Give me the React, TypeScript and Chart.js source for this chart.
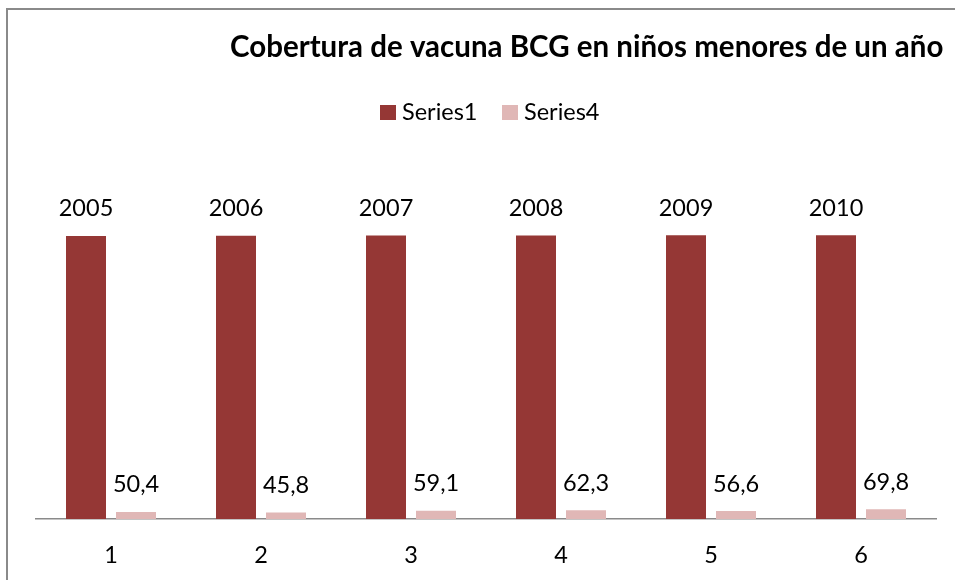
import React, { useEffect, useRef } from "react";
import { Chart, registerables } from "chart.js";

Chart.register(...registerables);

const categories = ["1", "2", "3", "4", "5", "6"];
const series1 = [2005, 2006, 2007, 2008, 2009, 2010];
const series4 = [50.4, 45.8, 59.1, 62.3, 56.6, 69.8];
const seriesNames = ["Series1", "Series4"];
const seriesColors = ["#953735", "#E0B7B6"];
const titleText = "Cobertura de vacuna BCG en niños menores de un año";
const yMax = 2500;

const FONT = "Lato, 'Noto Sans', sans-serif";

const fmt = (v: number) =>
  Number.isInteger(v) ? String(v) : v.toFixed(1).replace(".", ",");

const decorPlugin = {
  id: "decor",
  beforeDraw(chart: any) {
    const ctx = chart.ctx;
    ctx.save();
    ctx.fillStyle = "#ffffff";
    ctx.fillRect(0, 0, chart.width, chart.height);
    ctx.strokeStyle = "#8a8a8a";
    ctx.lineWidth = 2;
    ctx.strokeRect(7, 9, 1200, 1200);
    ctx.restore();
  },
  afterDatasetsDraw(chart: any) {
    const ctx = chart.ctx;
    ctx.save();
    ctx.fillStyle = "#000000";
    ctx.font = `23.5px ${FONT}`;
    ctx.textAlign = "center";
    ctx.textBaseline = "middle";
    chart.data.datasets.forEach((ds: any, di: number) => {
      const meta = chart.getDatasetMeta(di);
      meta.data.forEach((bar: any, i: number) => {
        ctx.fillText(fmt(ds.data[i]), bar.x, bar.y - 27);
      });
    });
    ctx.restore();
  },
  afterDraw(chart: any) {
    const ctx = chart.ctx;
    ctx.save();
    ctx.fillStyle = "#000000";
    ctx.font = `bold 29.5px ${FONT}`;
    ctx.textAlign = "left";
    ctx.textBaseline = "alphabetic";
    ctx.fillText(titleText, 230, 57);

    // legend
    ctx.font = `23.5px ${FONT}`;
    const items = [
      { x: 380, label: seriesNames[0], color: seriesColors[0] },
      { x: 502, label: seriesNames[1], color: seriesColors[1] },
    ];
    items.forEach((it) => {
      ctx.fillStyle = it.color;
      ctx.fillRect(it.x, 105, 16, 15);
      ctx.fillStyle = "#000000";
      ctx.fillText(it.label, it.x + 22, 120);
    });
    ctx.restore();
  },
};

export default function App() {
  const ref = useRef<HTMLCanvasElement | null>(null);

  useEffect(() => {
    if (!ref.current) return;
    const chart = new Chart(ref.current, {
      type: "bar",
      data: {
        labels: categories,
        datasets: [
          {
            label: seriesNames[0],
            data: series1,
            backgroundColor: seriesColors[0],
            categoryPercentage: 2 / 3,
            barPercentage: 0.8,
          },
          {
            label: seriesNames[1],
            data: series4,
            backgroundColor: seriesColors[1],
            categoryPercentage: 2 / 3,
            barPercentage: 0.8,
          },
        ],
      },
      options: {
        responsive: false,
        animation: false,
        layout: { padding: { left: 36, right: 19, top: 166, bottom: 0 } },
        plugins: {
          legend: { display: false },
          title: { display: false },
          tooltip: { enabled: false },
        },
        scales: {
          x: {
            grid: { display: false, drawTicks: false },
            border: { display: true, color: "#8a8a8a", width: 1.5 },
            ticks: {
              color: "#000000",
              font: { family: FONT, size: 23.5 },
              padding: 22,
            },
            afterFit: (scale: any) => {
              scale.height = 61;
            },
          },
          y: {
            display: false,
            min: 0,
            max: yMax,
          },
        },
      },
      plugins: [decorPlugin],
    });
    return () => chart.destroy();
  }, []);

  return (
    <div style={{ position: "fixed", left: 0, top: 0, width: 955, height: 580 }}>
      <canvas ref={ref} width={955} height={580} style={{ display: "block" }} />
    </div>
  );
}
